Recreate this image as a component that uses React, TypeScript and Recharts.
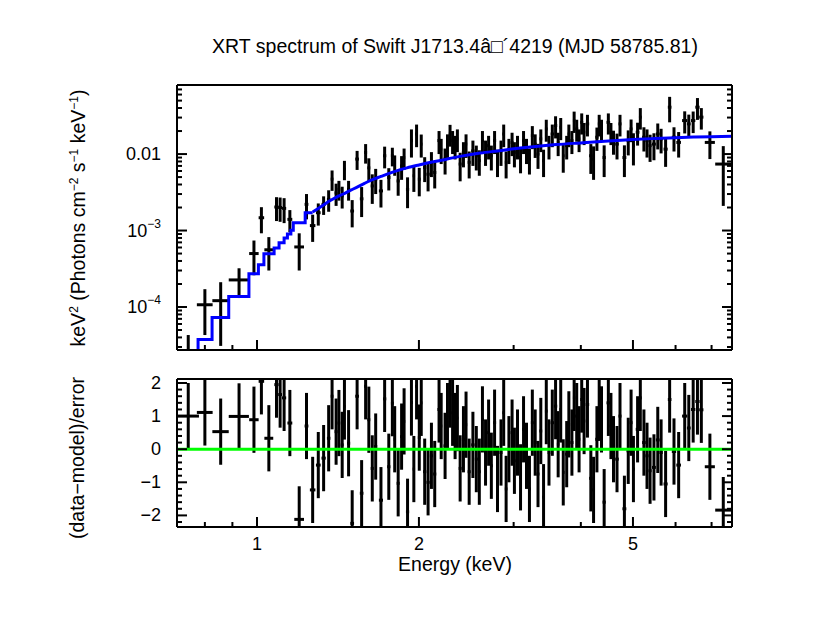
import React from 'react';
import {
  ComposedChart,
  Scatter,
  Line,
  XAxis,
  YAxis,
  ErrorBar,
  ReferenceLine,
} from 'recharts';

const FONT = '"Liberation Sans", Arial, Helvetica, sans-serif';
const TITLE = 'XRT spectrum of Swift J1713.4\u00e2\u25a1\u00b44219 (MJD 58785.81)';

// bin centres (keV) and half widths
const energy = [
  0.745, 0.8, 0.856, 0.926, 0.987, 1.019, 1.052, 1.087, 1.104, 1.123,
  1.151, 1.198, 1.236, 1.269, 1.3, 1.33, 1.359, 1.379, 1.403, 1.42,
  1.44, 1.454, 1.48, 1.503, 1.535, 1.565, 1.592, 1.614, 1.638, 1.662,
  1.7, 1.727, 1.758, 1.785, 1.803, 1.83, 1.857, 1.877, 1.905, 1.937,
  1.957, 1.98, 2.003, 2.02, 2.05, 2.08, 2.11, 2.14, 2.18, 2.2,
  2.237, 2.26, 2.285, 2.31, 2.335, 2.358, 2.386, 2.42, 2.447, 2.48,
  2.52, 2.557, 2.59, 2.625, 2.66, 2.695, 2.727, 2.765, 2.8, 2.842,
  2.875, 2.905, 2.94, 2.98, 3.01, 3.05, 3.09, 3.13, 3.17, 3.21,
  3.25, 3.29, 3.33, 3.37, 3.41, 3.45, 3.49, 3.54, 3.59, 3.63,
  3.67, 3.71, 3.765, 3.8, 3.85, 3.887, 3.93, 3.97, 4.015, 4.056,
  4.115, 4.175, 4.224, 4.285, 4.327, 4.37, 4.42, 4.5, 4.55, 4.6,
  4.67, 4.73, 4.82, 4.9, 4.96, 5.01, 5.1, 5.16, 5.24, 5.31,
  5.38, 5.47, 5.56, 5.64, 5.75, 5.85, 5.96, 6.08, 6.24, 6.35,
  6.47, 6.59, 6.7, 6.95, 7.36,
];

const halfWidth = [
  0.035, 0.027, 0.03, 0.04, 0.02, 0.012, 0.02, 0.01, 0.009, 0.01,
  0.012, 0.025, 0.01, 0.015, 0.013, 0.012, 0.01, 0.008, 0.009, 0.008,
  0.009, 0.007, 0.01, 0.012, 0.012, 0.012, 0.01, 0.01, 0.011, 0.011,
  0.015, 0.012, 0.012, 0.011, 0.008, 0.012, 0.012, 0.009, 0.013, 0.012,
  0.01, 0.012, 0.012, 0.01, 0.014, 0.014, 0.014, 0.014, 0.015, 0.01,
  0.015, 0.01, 0.012, 0.012, 0.012, 0.01, 0.015, 0.016, 0.012, 0.016,
  0.018, 0.016, 0.016, 0.016, 0.016, 0.016, 0.016, 0.018, 0.018, 0.018,
  0.016, 0.016, 0.016, 0.018, 0.016, 0.02, 0.018, 0.02, 0.02, 0.02,
  0.02, 0.02, 0.02, 0.02, 0.02, 0.02, 0.02, 0.025, 0.025, 0.02,
  0.02, 0.02, 0.025, 0.02, 0.025, 0.02, 0.025, 0.02, 0.025, 0.02,
  0.03, 0.03, 0.025, 0.03, 0.025, 0.025, 0.03, 0.035, 0.025, 0.03,
  0.035, 0.03, 0.04, 0.035, 0.03, 0.03, 0.04, 0.03, 0.04, 0.035,
  0.035, 0.045, 0.045, 0.04, 0.05, 0.045, 0.055, 0.06, 0.07, 0.05,
  0.06, 0.06, 0.06, 0.15, 0.25,
];

// keV^2 (Photons cm^-2 s^-1 keV^-1)
const flux = [
  2.0e-5, 1.07e-4, 1.21e-4, 2.26e-4, 5.0e-4, 1.47e-3, 5.6e-4, 2.03e-3, 2.0e-3, 1.95e-3,
  1.4e-3, 6.1e-4, 2.2e-3, 1.16e-3, 1.71e-3, 2.2e-3, 2.56e-3, 4.7e-3, 3.1e-3, 3.46e-3,
  2.84e-3, 6.35e-3, 3.46e-3, 1.8e-3, 8.6e-3, 2.6e-3, 1.05e-2, 6.6e-3, 3.83e-3, 4.7e-3,
  3.3e-3, 9.5e-3, 4.94e-3, 9.5e-3, 7.4e-3, 4.45e-3, 7.0e-3, 9.0e-3, 3.46e-3, 1.5e-2,
  5.2e-3, 1.83e-2, 4.7e-3, 1.35e-2, 6.7e-3, 5.45e-3, 7.8e-3, 5.75e-3, 1.5e-2, 1.16e-2,
  8.6e-3, 1.35e-2, 1.83e-2, 1.5e-2, 1.29e-2, 1.58e-2, 7.4e-3, 1.05e-2, 1.35e-2, 7.8e-3,
  1.1e-2, 9.5e-3, 8.2e-3, 1.5e-2, 1.1e-2, 1.29e-2, 9.5e-3, 1.5e-2, 8.2e-3, 1.1e-2,
  1.83e-2, 7.8e-3, 1.16e-2, 1.42e-2, 1.05e-2, 1.29e-2, 9.0e-3, 1.5e-2, 1.16e-2, 8.6e-3,
  1.74e-2, 1.35e-2, 1.0e-2, 1.58e-2, 8.2e-3, 2.13e-2, 1.29e-2, 1.83e-2, 2.36e-2, 1.42e-2,
  2.24e-2, 9.5e-3, 1.29e-2, 1.83e-2, 1.5e-2, 2.74e-2, 2.13e-2, 1.58e-2, 2.6e-2, 1.93e-2,
  2.48e-2, 9.5e-3, 8.6e-3, 1.66e-2, 2.48e-2, 2.13e-2, 9.0e-3, 2.6e-2, 1.93e-2, 1.5e-2,
  1.35e-2, 2.48e-2, 9.0e-3, 1.5e-2, 2.13e-2, 1.29e-2, 1.93e-2, 3.04e-2, 1.66e-2, 1.5e-2,
  1.29e-2, 1.35e-2, 1.83e-2, 1.58e-2, 1.16e-2, 4.1e-2, 1.66e-2, 1.42e-2, 2.74e-2, 2.48e-2,
  2.74e-2, 4.1e-2, 3.04e-2, 1.42e-2, 7.4e-3,
];

const fluxErr = [
  2.3e-5, 6.4e-5, 9.0e-5, 9.5e-5, 2.4e-4, 5.5e-4, 2.6e-4, 7.0e-4, 7.0e-4, 7.0e-4,
  4.5e-4, 3.1e-4, 8.0e-4, 4.5e-4, 5.5e-4, 6.0e-4, 8.0e-4, 1.4e-3, 1.0e-3, 1.0e-3,
  9.0e-4, 1.8e-3, 1.0e-3, 7.0e-4, 2.4e-3, 1.1e-3, 3.0e-3, 2.2e-3, 1.6e-3, 1.7e-3,
  1.3e-3, 3.0e-3, 1.6e-3, 2.6e-3, 2.2e-3, 1.6e-3, 2.4e-3, 2.8e-3, 1.5e-3, 6.0e-3,
  2.0e-3, 6.0e-3, 1.9e-3, 4.5e-3, 2.4e-3, 2.2e-3, 2.8e-3, 2.2e-3, 5.0e-3, 4.2e-3,
  3.2e-3, 4.6e-3, 5.8e-3, 5.0e-3, 4.4e-3, 5.2e-3, 3.0e-3, 3.8e-3, 4.6e-3, 3.0e-3,
  4.0e-3, 3.4e-3, 3.0e-3, 5.0e-3, 4.0e-3, 4.4e-3, 3.4e-3, 5.0e-3, 3.2e-3, 4.0e-3,
  6.0e-3, 3.0e-3, 4.2e-3, 4.8e-3, 3.8e-3, 4.4e-3, 3.4e-3, 5.0e-3, 4.2e-3, 3.2e-3,
  5.8e-3, 4.6e-3, 3.6e-3, 5.2e-3, 3.2e-3, 6.8e-3, 4.4e-3, 6.0e-3, 7.6e-3, 4.8e-3,
  7.2e-3, 3.8e-3, 4.4e-3, 6.0e-3, 5.0e-3, 8.5e-3, 6.8e-3, 5.2e-3, 8.0e-3, 6.2e-3,
  7.8e-3, 4.0e-3, 4.0e-3, 5.6e-3, 7.8e-3, 6.8e-3, 4.0e-3, 8.0e-3, 6.2e-3, 5.2e-3,
  5.0e-3, 7.8e-3, 4.0e-3, 5.4e-3, 7.0e-3, 5.8e-3, 6.4e-3, 9.5e-3, 5.8e-3, 6.0e-3,
  5.0e-3, 5.2e-3, 6.8e-3, 5.6e-3, 4.8e-3, 1.5e-2, 5.8e-3, 5.2e-3, 8.8e-3, 8.0e-3,
  8.6e-3, 1.3e-2, 9.5e-3, 5.6e-3, 5.3e-3,
];

// (data-model)/error
const resid = [
  1.0, 1.11, 0.53, 0.99, 0.89, 2.05, 0.33, 1.95, 1.65, 1.55,
  0.79, -2.12, 0.7, -1.23, -0.48, -0.27, 0.33, 1.6, 0.53, 0.79,
  0.13, 1.29, 0.18, -2.24, 1.6, -1.33, 1.9, 0.89, -0.58, 0.08,
  -1.54, 1.52, -0.53, 1.39, 0.3, -1.03, 0.38, 0.84, -1.89, 1.41,
  -0.6, 1.9, 0.35, 1.4, -0.68, -1.0, -0.2, -0.75, 1.2, 0.7,
  0.1, 1.0, 1.65, 1.1, 0.7, 0.94, -0.58, 0.3, 0.74, -0.68,
  0.13, -0.3, -0.68, 0.9, -0.1, 0.5, -0.5, 0.8, -0.9, -0.1,
  1.1, -1.2, 0.0, 0.5, -0.35, 0.2, -0.85, 0.6, -0.2, -1.2,
  0.8, 0.2, -0.75, 0.55, -1.45, 1.15, -0.1, 0.8, 1.3, 0.15,
  1.2, -0.7, -0.15, 0.75, 0.2, 1.55, 1.0, 0.3, 1.5, 0.85,
  1.35, -0.88, -1.23, 0.3, 1.25, 0.9, -1.6, 1.4, 0.7, 0.0,
  -0.3, 1.0, -1.8, -0.05, 0.8, -0.6, 0.6, 1.55, 0.2, -0.2,
  -0.65, -0.55, 0.28, -0.1, -1.05, 1.5, -0.07, -0.48, 1.0, 0.64,
  1.2, 1.44, 1.19, -0.53, -1.84,
];

// model: histogram steps at low energy, then smooth
const modelStepE = [0.6, 0.777, 0.825, 0.886, 0.966, 1.006, 1.03, 1.076, 1.099, 1.123, 1.139, 1.156, 1.168, 1.229, 1.269];
const modelStepF = [1.0e-5, 3.76e-5, 7.3e-5, 1.37e-4, 2.72e-4, 3.57e-4, 4.98e-4, 5.9e-4, 6.9e-4, 8.0e-4, 9.0e-4, 1.01e-3, 1.26e-3, 1.71e-3, 1.71e-3];
const modelSmoothE = [1.269, 1.306, 1.335, 1.363, 1.4, 1.443, 1.485, 1.529, 1.575, 1.619, 1.7, 1.8, 1.9, 2.0, 2.2, 2.4, 2.6, 2.8, 3.0, 3.3, 3.6, 4.0, 4.5, 5.0, 5.5, 6.0, 6.5, 7.0, 7.7];
const modelSmoothF = [1.75e-3, 1.99e-3, 2.2e-3, 2.43e-3, 2.7e-3, 2.98e-3, 3.3e-3, 3.65e-3, 4.05e-3, 4.46e-3, 5.1e-3, 5.9e-3, 6.6e-3, 7.2e-3, 8.3e-3, 9.4e-3, 1.03e-2, 1.1e-2, 1.17e-2, 1.26e-2, 1.33e-2, 1.4e-2, 1.48e-2, 1.55e-2, 1.6e-2, 1.64e-2, 1.67e-2, 1.69e-2, 1.71e-2];

// ticks
const xMajor = [1, 2, 5];
const xMinor = [0.8, 0.9, 3, 4, 6, 7];
const fluxMajor = [1e-4, 1e-3, 1e-2];
const fluxMinor = [
  3e-5, 4e-5, 5e-5, 6e-5, 7e-5, 8e-5, 9e-5,
  2e-4, 3e-4, 4e-4, 5e-4, 6e-4, 7e-4, 8e-4, 9e-4,
  2e-3, 3e-3, 4e-3, 5e-3, 6e-3, 7e-3, 8e-3, 9e-3,
  2e-2, 3e-2, 4e-2, 5e-2, 6e-2, 7e-2, 8e-2,
];
const residMajor = [-2, -1, 0, 1, 2];
const residMinor = [-2.2, -1.8, -1.6, -1.4, -1.2, -0.8, -0.6, -0.4, -0.2, 0.2, 0.4, 0.6, 0.8, 1.2, 1.4, 1.6, 1.8];

const X_DOMAIN = [0.71, 7.64];
const FLUX_DOMAIN = [2.74e-5, 0.08];
const RESID_DOMAIN = [-2.35, 2.12];

// error bars are cut at the frame, as the plot package does
const spectrum = energy.map((e, i) => {
  const f = flux[i];
  const s = fluxErr[i];
  const inside = f >= FLUX_DOMAIN[0];
  return {
    e,
    f,
    ex: inside ? halfWidth[i] : 0,
    ey: [Math.min(s, f - FLUX_DOMAIN[0]), Math.min(s, FLUX_DOMAIN[1] - f)],
  };
});
const residuals = energy.map((e, i) => {
  const r = resid[i];
  return {
    e,
    r,
    ex: halfWidth[i],
    ey: [Math.min(1, r - RESID_DOMAIN[0]), Math.min(1, RESID_DOMAIN[1] - r)],
  };
});
const modelStep = modelStepE.map((e, i) => ({ e, f: modelStepF[i] }));
const modelSmooth = modelSmoothE.map((e, i) => ({ e, f: modelSmoothF[i] }));

const xTicks = [...xMajor, ...xMinor].sort((a, b) => a - b);
const fluxTicks = [...fluxMajor, ...fluxMinor].sort((a, b) => a - b);
const residTicks = [...residMajor, ...residMinor].sort((a, b) => a - b);

const frame = { stroke: '#000', strokeWidth: 2 };
const NoMarker = () => <g />;

type Side = 'left' | 'right' | 'top' | 'bottom';

const makeTick = (side: Side, majors: number[], label?: (v: number) => React.ReactNode) =>
  (props: any) => {
    const { x, y, payload } = props;
    const v = payload.value;
    const major = majors.includes(v);
    const len = major ? 10 : 5;
    let x2 = x;
    let y2 = y;
    if (side === 'left') x2 = x + len;
    if (side === 'right') x2 = x - len;
    if (side === 'top') y2 = y + len;
    if (side === 'bottom') y2 = y - len;
    let text = null;
    if (label && major) {
      if (side === 'left') {
        text = (
          <text x={x - 16} y={y} textAnchor="end" dominantBaseline="central" fontSize={18} fontFamily={FONT} fill="#000">
            {label(v)}
          </text>
        );
      } else {
        text = (
          <text x={x} y={y + 17} textAnchor="middle" dominantBaseline="central" fontSize={18} fontFamily={FONT} fill="#000">
            {label(v)}
          </text>
        );
      }
    }
    return (
      <g>
        <line x1={x} y1={y} x2={x2} y2={y2} stroke="#000" strokeWidth={2} />
        {text}
      </g>
    );
  };

const fluxLabel = (v: number) => {
  if (v === 1e-2) return '0.01';
  const p = Math.round(Math.log10(v));
  return (
    <>
      10<tspan dy={-7} fontSize={12}>{'\u2212' + Math.abs(p)}</tspan>
    </>
  );
};
const residLabel = (v: number) => (v < 0 ? '\u2212' + Math.abs(v) : String(v));
const energyLabel = (v: number) => String(v);

const xAxes = (withLabels: boolean) => [
  <XAxis
    key="xb"
    dataKey="e"
    type="number"
    scale="log"
    domain={X_DOMAIN}
    allowDataOverflow
    ticks={xTicks}
    interval={0}
    height={1}
    tickSize={0}
    tickMargin={0}
    tickLine={false}
    axisLine={frame}
    tick={makeTick('bottom', xMajor, withLabels ? energyLabel : undefined)}
  />,
  <XAxis
    key="xt"
    xAxisId="top"
    orientation="top"
    type="number"
    scale="log"
    domain={X_DOMAIN}
    allowDataOverflow
    ticks={xTicks}
    interval={0}
    height={1}
    tickSize={0}
    tickMargin={0}
    tickLine={false}
    axisLine={frame}
    tick={makeTick('top', xMajor)}
  />,
];

const Label = ({ x, y, rotate, children }: { x: number; y: number; rotate?: boolean; children: React.ReactNode }) => (
  <div
    style={{
      position: 'absolute',
      left: x,
      top: y,
      transform: `translate(-50%, -50%)${rotate ? ' rotate(-90deg)' : ''}`,
      whiteSpace: 'nowrap',
      fontSize: 19.5,
      fontFamily: FONT,
      color: '#000',
      lineHeight: 1,
    }}
  >
    {children}
  </div>
);

const sup = (s: string) => <span style={{ fontSize: 12, verticalAlign: '0.6em' }}>{s}</span>;

export default function App() {
  return (
    <div style={{ position: 'absolute', left: 0, top: 0, width: 830, height: 642, background: '#fff' }}>
      <div style={{ position: 'absolute', left: 0, top: 0 }}>
        <ComposedChart width={830} height={365} margin={{ top: 84, right: 97, bottom: 14, left: 176 }}>
          {xAxes(false)}
          <YAxis
            dataKey="f"
            type="number"
            scale="log"
            domain={FLUX_DOMAIN}
            allowDataOverflow
            ticks={fluxTicks}
            interval={0}
            width={1}
            tickSize={0}
            tickMargin={0}
            tickLine={false}
            axisLine={frame}
            tick={makeTick('left', fluxMajor, fluxLabel)}
          />
          <YAxis
            yAxisId="right"
            orientation="right"
            type="number"
            scale="log"
            domain={FLUX_DOMAIN}
            allowDataOverflow
            ticks={fluxTicks}
            interval={0}
            width={1}
            tickSize={0}
            tickMargin={0}
            tickLine={false}
            axisLine={frame}
            tick={makeTick('right', fluxMajor)}
          />
          <Scatter data={spectrum} dataKey="f" shape={NoMarker} isAnimationActive={false}>
            <ErrorBar dataKey="ex" direction="x" width={0} stroke="#000" strokeWidth={3} isAnimationActive={false} />
            <ErrorBar dataKey="ey" direction="y" width={0} stroke="#000" strokeWidth={3} isAnimationActive={false} />
          </Scatter>
          <Line data={modelStep} dataKey="f" type="stepAfter" stroke="#0000ff" strokeWidth={3} dot={false} isAnimationActive={false} />
          <Line data={modelSmooth} dataKey="f" type="monotone" stroke="#0000ff" strokeWidth={3} dot={false} isAnimationActive={false} />
        </ComposedChart>
      </div>

      <div style={{ position: 'absolute', left: 0, top: 365 }}>
        <ComposedChart width={830} height={277} margin={{ top: 13, right: 97, bottom: 114, left: 176 }}>
          {xAxes(true)}
          <YAxis
            dataKey="r"
            type="number"
            domain={RESID_DOMAIN}
            allowDataOverflow
            ticks={residTicks}
            interval={0}
            width={1}
            tickSize={0}
            tickMargin={0}
            tickLine={false}
            axisLine={frame}
            tick={makeTick('left', residMajor, residLabel)}
          />
          <YAxis
            yAxisId="right"
            orientation="right"
            type="number"
            domain={RESID_DOMAIN}
            allowDataOverflow
            ticks={residTicks}
            interval={0}
            width={1}
            tickSize={0}
            tickMargin={0}
            tickLine={false}
            axisLine={frame}
            tick={makeTick('right', residMajor)}
          />
          <Scatter data={residuals} dataKey="r" shape={NoMarker} isAnimationActive={false}>
            <ErrorBar dataKey="ex" direction="x" width={0} stroke="#000" strokeWidth={3} isAnimationActive={false} />
            <ErrorBar dataKey="ey" direction="y" width={0} stroke="#000" strokeWidth={3} isAnimationActive={false} />
          </Scatter>
          <ReferenceLine y={0} stroke="#00ff00" strokeWidth={3} />
        </ComposedChart>
      </div>

      <Label x={455} y={47}>{TITLE}</Label>
      <Label x={455} y={565}>Energy (keV)</Label>
      <Label x={78} y={218} rotate>
        keV{sup('2')} (Photons cm{sup('\u22122')} s{sup('\u22121')} keV{sup('\u22121')})
      </Label>
      <Label x={78} y={458} rotate>{'(data\u2212model)/error'}</Label>
    </div>
  );
}
